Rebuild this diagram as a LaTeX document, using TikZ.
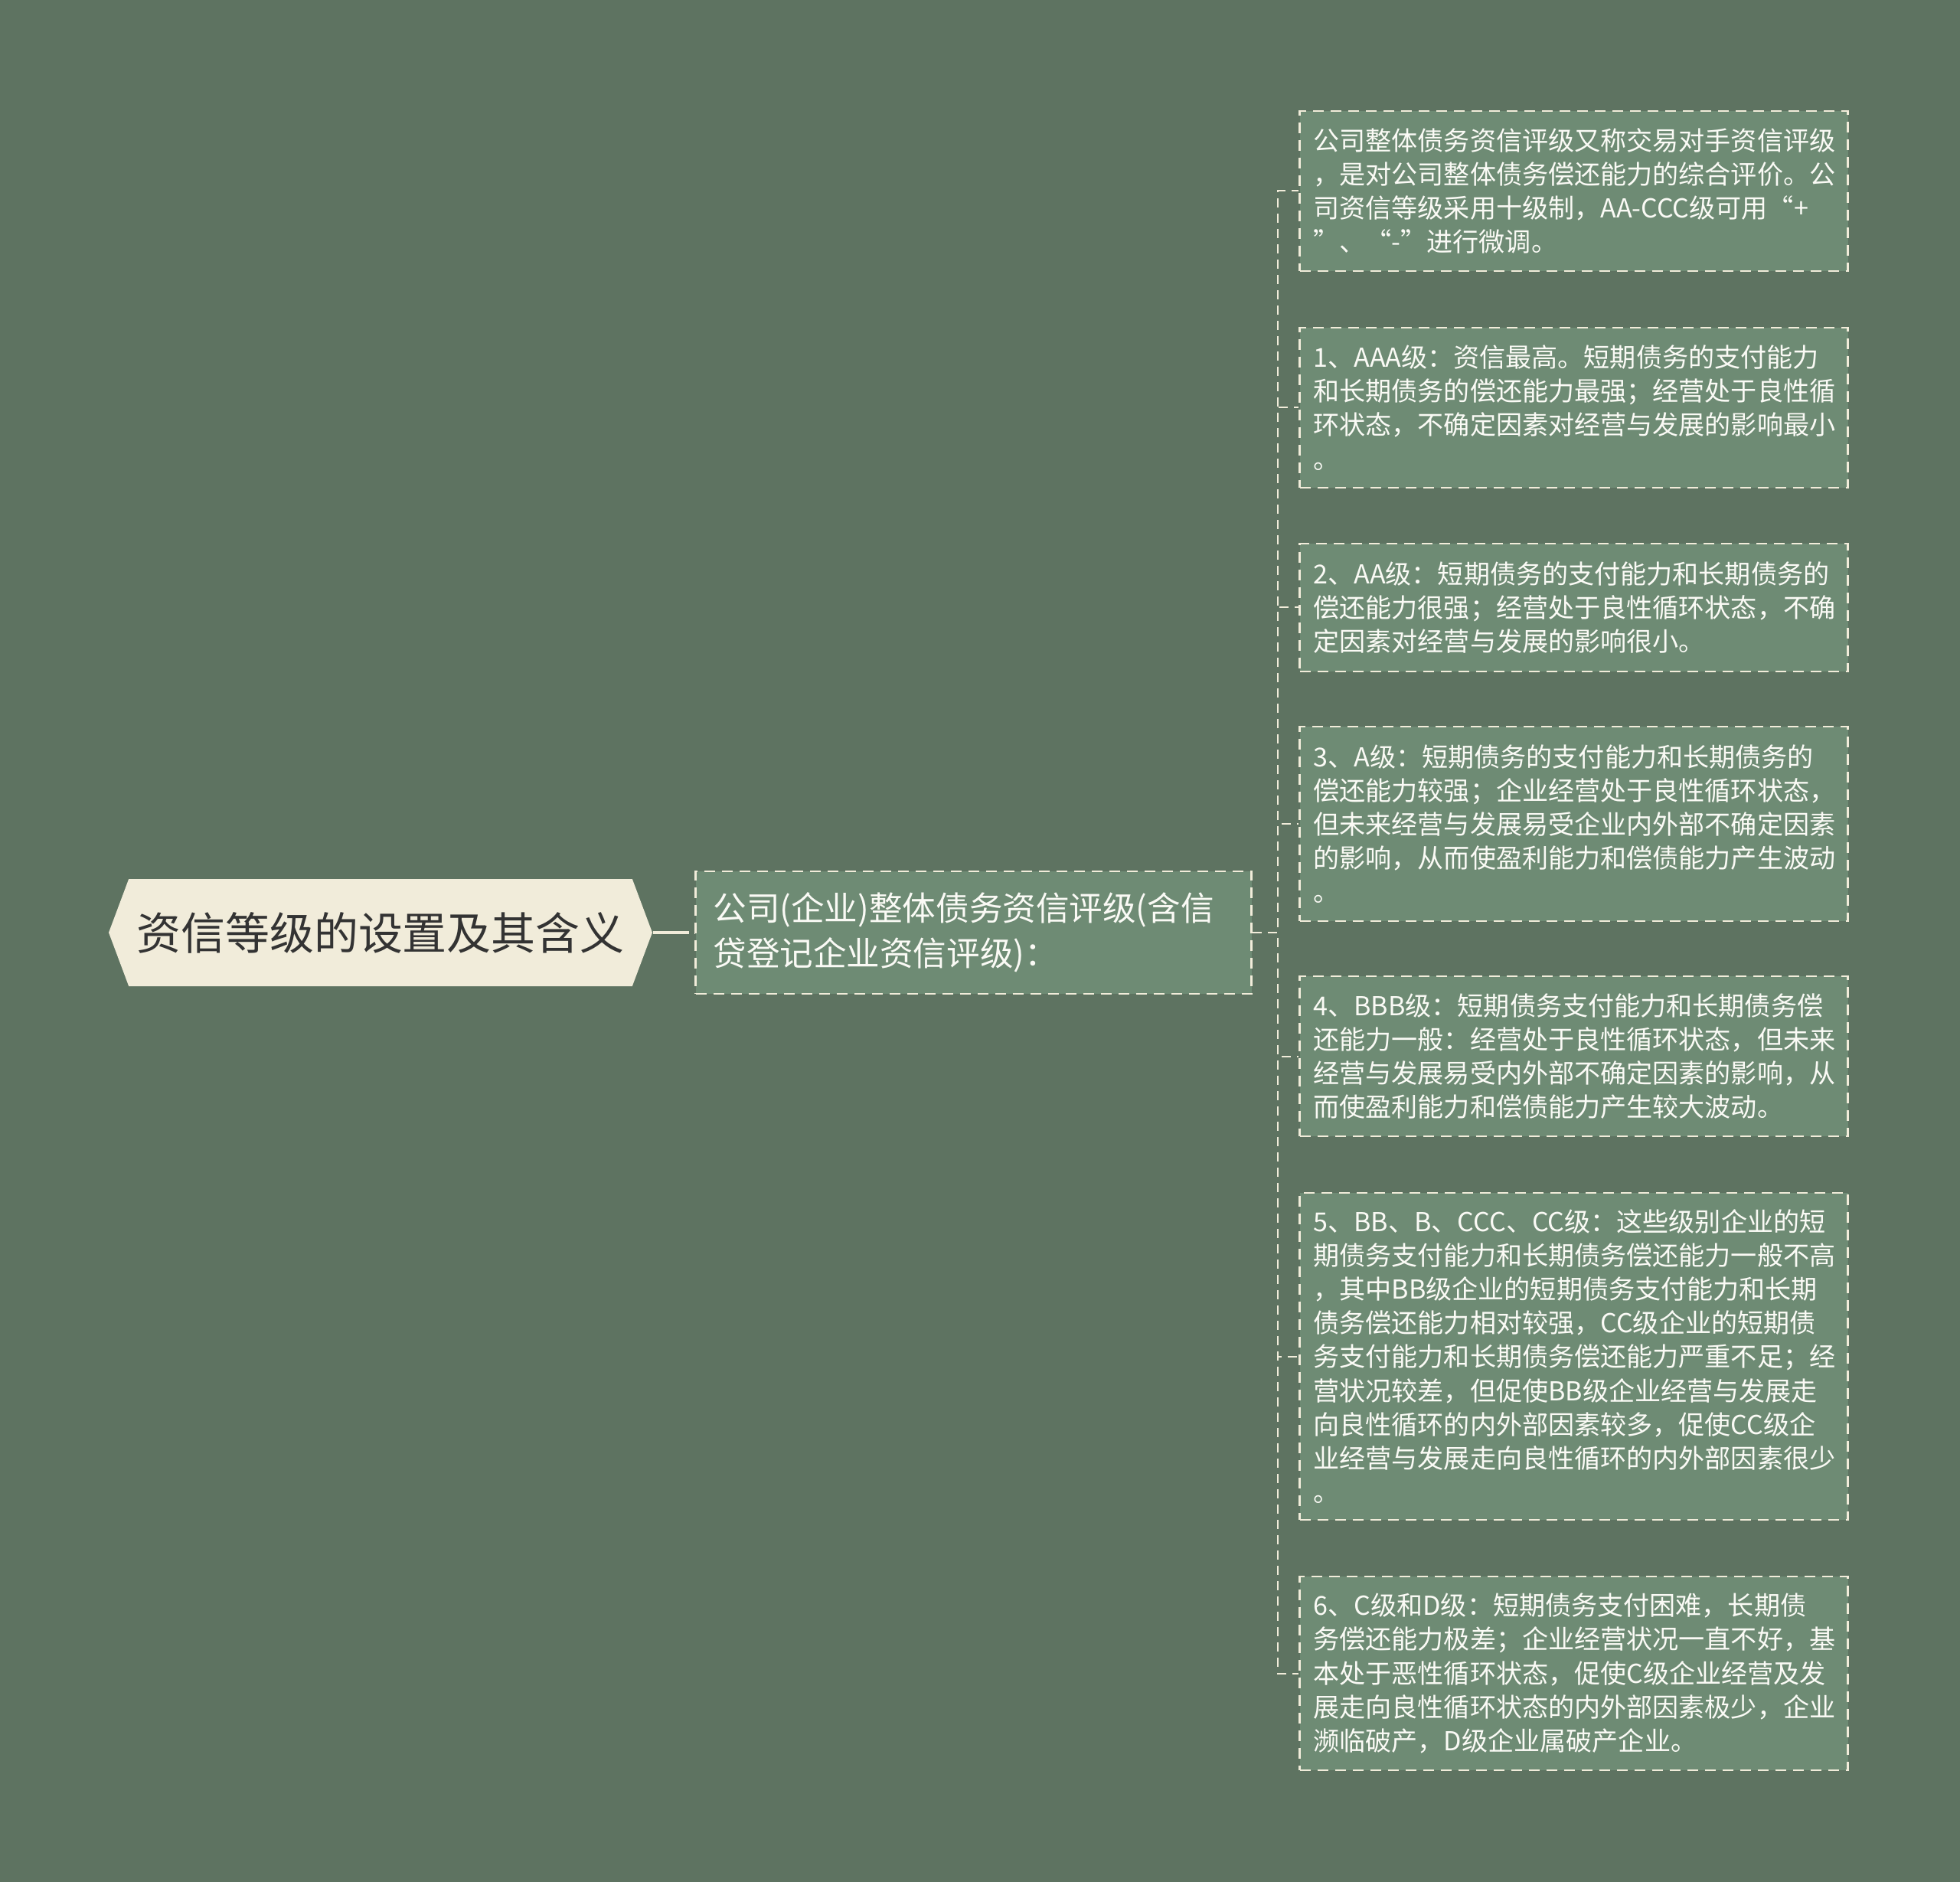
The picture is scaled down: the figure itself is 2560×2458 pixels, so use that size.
\documentclass[tikz,border=0pt]{standalone}
\usepackage{fontspec}
\setmainfont{Noto Sans CJK SC}
\usetikzlibrary{positioning,shapes.symbols}

\definecolor{bgcol}{HTML}{5E7361}
\definecolor{boxcol}{HTML}{6E8B74}
\definecolor{creamcol}{HTML}{F1ECDA}
\definecolor{textcol}{HTML}{FAFAF5}
\definecolor{roottext}{HTML}{333333}

\tikzset{
  rootbox/.style={signal, signal to=west and east, signal pointer angle=139,
    fill=creamcol, minimum width=71mm, minimum height=14mm, inner sep=0pt,
    text=roottext, font=\fontsize{16.5pt}{20pt}\selectfont},
  midbox/.style={draw=creamcol, fill=boxcol, line width=0.25mm,
    dash pattern=on 1.4mm off 0.9mm, minimum width=72.5mm, minimum height=16mm,
    text width=68mm, inner xsep=2.3mm, align=left, text=textcol,
    font=\fontsize{12.4pt}{16.8pt}\selectfont},
  leaf/.style={draw=creamcol, fill=boxcol, line width=0.25mm,
    dash pattern=on 1.4mm off 0.9mm, minimum width=71.5mm,
    text width=68mm, inner xsep=1.8mm, align=left, text=textcol,
    font=\fontsize{9.7pt}{12.55pt}\selectfont},
  rootlink/.style={draw=creamcol, line width=0.43mm, dash pattern=on 4.7mm off 0.7mm},
  link/.style={draw=creamcol, line width=0.2mm, dash pattern=on 1.2mm off 0.8mm}
}

\begin{document}
\begin{tikzpicture}[x=0.1mm, y=-0.1mm]
  \fill[bgcol] (0,0) rectangle (2560,2458);
  \useasboundingbox (0,0) rectangle (2560,2458);

  % root and first level
  \node[rootbox] (root) at (497,1218) {资信等级的设置及其含义};
  \node[midbox] (mid) at (1271.5,1218) {公司(企业)整体债务资信评级(含信\\贷登记企业资信评级)：};

  % grades
  \node[leaf, minimum height=20.9mm] (c1) at (2055.5,249.5) {公司整体债务资信评级又称交易对手资信评级\\，是对公司整体债务偿还能力的综合评价。公\\司资信等级采用十级制，AA-CCC级可用“+\\”、“-”进行微调。};
  \node[leaf, minimum height=20.9mm] (c2) at (2055.5,532.5) {1、AAA级：资信最高。短期债务的支付能力\\和长期债务的偿还能力最强；经营处于良性循\\环状态，不确定因素对经营与发展的影响最小\\。};
  \node[leaf, minimum height=16.7mm] (c3) at (2055.5,793.5) {2、AA级：短期债务的支付能力和长期债务的\\偿还能力很强；经营处于良性循环状态，不确\\定因素对经营与发展的影响很小。};
  \node[leaf, minimum height=25.4mm] (c4) at (2055.5,1076) {3、A级：短期债务的支付能力和长期债务的\\偿还能力较强；企业经营处于良性循环状态，\\但未来经营与发展易受企业内外部不确定因素\\的影响，从而使盈利能力和偿债能力产生波动\\。};
  \node[leaf, minimum height=20.9mm] (c5) at (2055.5,1379.5) {4、BBB级：短期债务支付能力和长期债务偿\\还能力一般：经营处于良性循环状态，但未来\\经营与发展易受内外部不确定因素的影响，从\\而使盈利能力和偿债能力产生较大波动。};
  \node[leaf, minimum height=42.7mm] (c6) at (2055.5,1771.5) {5、BB、B、CCC、CC级：这些级别企业的短\\期债务支付能力和长期债务偿还能力一般不高\\，其中BB级企业的短期债务支付能力和长期\\债务偿还能力相对较强，CC级企业的短期债\\务支付能力和长期债务偿还能力严重不足；经\\营状况较差，但促使BB级企业经营与发展走\\向良性循环的内外部因素较多，促使CC级企\\业经营与发展走向良性循环的内外部因素很少\\。};
  \node[leaf, minimum height=25.3mm] (c7) at (2055.5,2185.5) {6、C级和D级：短期债务支付困难，长期债\\务偿还能力极差；企业经营状况一直不好，基\\本处于恶性循环状态，促使C级企业经营及发\\展走向良性循环状态的内外部因素极少，企业\\濒临破产，D级企业属破产企业。};

  % connectors
  \draw[rootlink] (root.east) -- (mid.west);
  \foreach \i in {1,...,7}
    \draw[link] (mid.east) -- ++(33,0) |- (c\i.west);
\end{tikzpicture}
\end{document}
